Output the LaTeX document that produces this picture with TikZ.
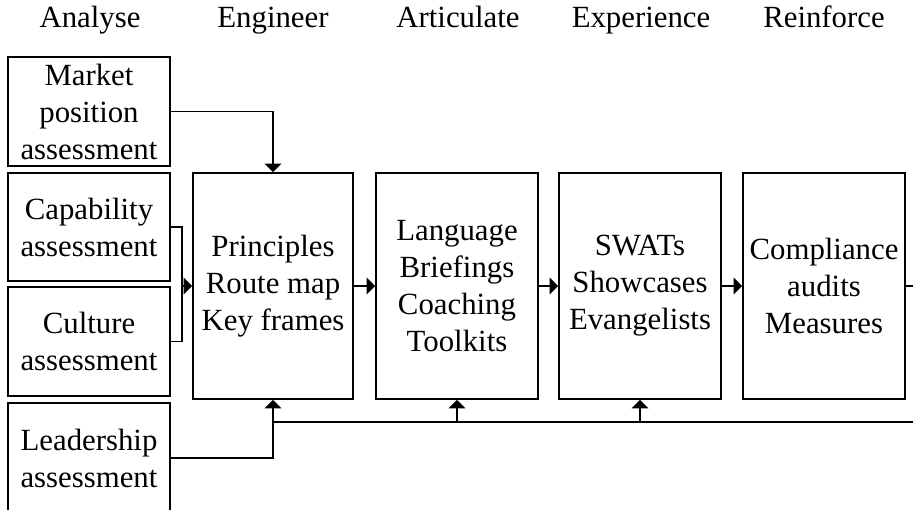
\documentclass[tikz,border=0pt]{standalone}
\usepackage{fontspec}
\setmainfont{Liberation Serif}
\usetikzlibrary{arrows.meta}
\begin{document}
\begin{tikzpicture}[x=1pt,y=-1pt,
  every node/.style={font=\fontsize{30.8}{37}\selectfont},
  box/.style={draw, line width=1.8pt, rectangle, inner sep=0pt, align=center},
  sidebox/.style={box, minimum width=162pt},
  stagebox/.style={box, minimum height=226pt},
  head/.style={anchor=base, inner sep=0pt},
  link/.style={line width=1.8pt},
  arr/.style={link, -{Triangle[length=8.5pt,width=16.5pt]}}]
\useasboundingbox (0,0) rectangle (913,510);
\begin{scope}
\clip (0,0) rectangle (913,510);

% stage headings
\node[head] (hA) at (90,28) {Analyse};
\node[head] (hE) at (273,28) {Engineer};
\node[head] (hR) at (458,28) {Articulate};
\node[head] (hX) at (641,28) {Experience};
\node[head] (hF) at (824,28) {Reinforce};

% assessments on the left
\node[sidebox, minimum height=109pt] (mkt) at (89,111.5) {Market\\position\\assessment};
\node[sidebox, minimum height=108pt] (cap) at (89,227) {Capability\\assessment};
\node[sidebox, minimum height=109pt] (cul) at (89,341.5) {Culture\\assessment};
\node[sidebox, minimum height=110pt] (lead) at (89,458) {Leadership\\assessment};

% stage boxes
\node[stagebox, minimum width=160pt] (b1) at (273,286) {Principles\\Route map\\Key frames};
\node[stagebox, minimum width=162pt] (b2) at (457,286) {Language\\Briefings\\Coaching\\Toolkits};
\node[stagebox, minimum width=162pt] (b3) at (640,286) {SWATs\\Showcases\\Evangelists};
\node[stagebox, minimum width=162pt] (b4) at (824,286) {Compliance\\audits\\Measures};

% market position feeds the first stage from above
\draw[arr] (mkt.east) -| (b1.north);

% capability and culture joined by a bracket
\draw[link] (cap.east) -- ++(11,0) coordinate (bk) |- (cul.east);
\draw[arr] (bk |- b1.west) -- (b1.west);

% stage-to-stage flow
\draw[arr] (b1.east) -- (b2.west);
\draw[arr] (b2.east) -- (b3.west);
\draw[arr] (b3.east) -- (b4.west);
\coordinate (out) at (913,286);
\draw[link] (b4.east) -- (out);

% leadership feedback bus
\draw[arr] (lead.east) -| (b1.south);
\coordinate (busL) at (273,422);
\coordinate (busR) at (913,422);
\draw[link] (busL) -- (busR);
\draw[arr] (b2.south |- busL) -- (b2.south);
\draw[arr] (b3.south |- busL) -- (b3.south);
\end{scope}
\end{tikzpicture}
\end{document}
